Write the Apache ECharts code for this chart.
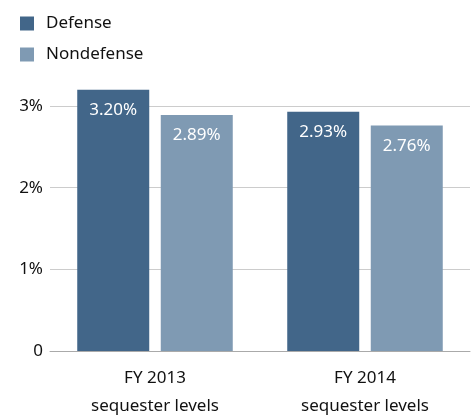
<!DOCTYPE html>
<html><head><meta charset="utf-8">
<script src="https://cdn.jsdelivr.net/npm/echarts@6/dist/echarts.min.js"></script>
<style>html,body{margin:0;padding:0;background:#fff}#c{width:471px;height:416px}</style>
</head><body><div id="c"></div>
<script>
const categories = ['FY 2013\nsequester levels', 'FY 2014\nsequester levels'];
const defense = [3.20, 2.93];
const nondefense = [2.89, 2.76];
const yTicks = [0, 1, 2, 3];

const FONT = '"Noto Sans", sans-serif';
const chart = echarts.init(document.getElementById('c'));
const lbl = {
  show: true, position: 'insideTop', distance: 12, color: '#fff',
  fontFamily: FONT, fontSize: 17,
  formatter: p => p.value.toFixed(2) + '%'
};
chart.setOption({
  animation: false,
  legend: {
    orient: 'vertical', left: 15, top: 10, itemWidth: 14, itemHeight: 14, itemGap: 14,
    icon: 'rect',
    textStyle: { fontFamily: FONT, fontSize: 17, color: '#111', padding: [0, 0, 0, 7] },
    data: ['Defense', 'Nondefense']
  },
  grid: { left: 50, right: 1, top: 106, bottom: 65, containLabel: false, outerBoundsMode: 'none' },
  xAxis: {
    type: 'category', data: categories,
    axisLine: { lineStyle: { color: '#aaa' } },
    axisTick: { show: false },
    axisLabel: { fontFamily: FONT, fontSize: 17, color: '#111', lineHeight: 28, margin: 13 }
  },
  yAxis: {
    type: 'value', min: 0, max: 3, interval: 1,
    axisLine: { show: false }, axisTick: { show: false },
    splitLine: { lineStyle: { color: '#ccc' } },
    axisLabel: {
      fontFamily: FONT, fontSize: 17, color: '#111', margin: 7,
      formatter: v => yTicks.includes(v) ? (v === 0 ? '0' : v + '%') : ''
    }
  },
  series: [
    { name: 'Defense', type: 'bar', data: defense, barWidth: 72, barGap: '16%', clip: false,
      itemStyle: { color: '#426689' }, label: lbl },
    { name: 'Nondefense', type: 'bar', data: nondefense, barWidth: 72, clip: false,
      itemStyle: { color: '#7f9ab3' }, label: lbl }
  ]
});
</script></body></html>
